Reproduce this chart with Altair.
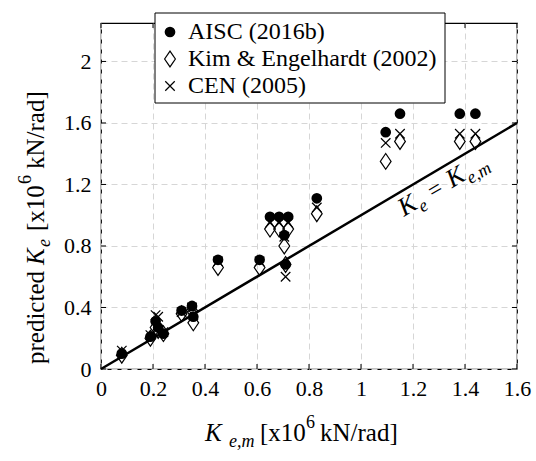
import altair as alt
import pandas as pd

# ---------------- data ----------------
x_meas = [0.08, 0.19, 0.21, 0.22, 0.24, 0.31, 0.35, 0.355, 0.45, 0.61,
          0.65, 0.685, 0.72, 0.705, 0.71, 0.83, 1.095, 1.15, 1.38, 1.44]
aisc = [0.10, 0.21, 0.31, 0.27, 0.23, 0.38, 0.41, 0.34, 0.71, 0.71,
        0.99, 0.99, 0.99, 0.87, 0.68, 1.11, 1.54, 1.66, 1.66, 1.66]
kim = [0.09, 0.20, 0.27, 0.25, 0.23, 0.36, 0.38, 0.30, 0.66, 0.66,
       0.91, 0.91, 0.91, 0.80, 0.68, 1.01, 1.35, 1.48, 1.48, 1.48]
cen = [0.12, 0.22, 0.35, 0.34, 0.24, 0.37, 0.40, 0.35, 0.70, 0.70,
       0.95, 0.95, 0.95, 0.86, 0.60, 1.05, 1.47, 1.53, 1.53, 1.53]

x_ticks = [0, 0.2, 0.4, 0.6, 0.8, 1.0, 1.2, 1.4, 1.6]
y_ticks = [0, 0.4, 0.8, 1.2, 1.6, 2.0]
x_domain = [0, 1.6]
y_domain = [0, 2.25]
line_vals = [0, 1.6]

legend_labels = ["AISC (2016b)", "Kim & Engelhardt (2002)", "CEN (2005)"]

ann_x = [1.165]
ann_y = [0.99]
ann_text = ["K", "e", "=", "K", "e,m"]

xtitle_text = ["K", "e,m", "[x10", "6", "kN/rad]"]
ytitle_text = ["predicted", "K", "e", "[x10", "6", "kN/rad]"]

# ---------------- styling ----------------
W, H = 416, 346
FONT = "Liberation Serif"
DIAMOND = "M0,-1L0.68,0L0,1L-0.68,0Z"
XMARK = "M-1,-1L1,1M-1,1L1,-1"

xs = alt.Scale(domain=x_domain, nice=False, zero=False)
ys = alt.Scale(domain=y_domain, nice=False, zero=False)

xax = alt.Axis(values=x_ticks, format="~g", grid=True, gridDash=[6, 4],
               gridColor="#d6d6d6", gridWidth=1, ticks=False, domain=False,
               labelFont=FONT, labelFontSize=22, labelColor="black",
               labelPadding=9, labelFlush=False, title=None)
yax = alt.Axis(values=y_ticks, format="~g", grid=True, gridDash=[6, 4],
               gridColor="#d6d6d6", gridWidth=1, ticks=False, domain=False,
               labelFont=FONT, labelFontSize=22, labelColor="black",
               labelPadding=10, labelFlush=False, title=None)


def X(field):
    return alt.X(field, scale=xs, axis=xax)


def Y(field):
    return alt.Y(field, scale=ys, axis=yax)


df = pd.DataFrame({"x": x_meas, "aisc": aisc, "kim": kim, "cen": cen})
df_line = pd.DataFrame({"x": line_vals, "y": line_vals})
df_xt = pd.DataFrame({"t": x_ticks})
df_yt = pd.DataFrame({"t": y_ticks})

layers = []

circles = alt.Chart(df).mark_point(shape="circle", filled=True, color="black",
                                   size=115, opacity=1).encode(
    x=X("x:Q"), y=Y("aisc:Q"))
layers.append(circles)

ref_line = alt.Chart(df_line).mark_line(color="black", strokeWidth=2.5).encode(
    x=X("x:Q"), y=Y("y:Q"))
layers.append(ref_line)

diamonds = alt.Chart(df).mark_point(shape=DIAMOND, filled=False, stroke="black",
                                    strokeWidth=1.2, size=250, opacity=1).encode(
    x=X("x:Q"), y=Y("kim:Q"))
layers.append(diamonds)

crosses = alt.Chart(df).mark_point(shape=XMARK, filled=False, stroke="black",
                                   strokeWidth=1.2, size=90, opacity=1).encode(
    x=X("x:Q"), y=Y("cen:Q"))
layers.append(crosses)

# inward tick marks on all four sides
TL = 5
for y0, y1 in [(H, H - TL), (0, TL)]:
    layers.append(alt.Chart(df_xt).mark_rule(color="black", strokeWidth=1).encode(
        x=X("t:Q"), y=alt.value(y0), y2=alt.value(y1)))
for x0, x1 in [(0, TL), (W, W - TL)]:
    layers.append(alt.Chart(df_yt).mark_rule(color="black", strokeWidth=1).encode(
        y=Y("t:Q"), x=alt.value(x0), x2=alt.value(x1)))

# annotation K_e = K_e,m along (below) the line
ann_dx = [0, 18, 34, 56, 74]
ann_dy = [0, 6, 0, 0, 6]
ann_fs = [26, 18, 24, 26, 18]
ann_st = ["italic", "italic", "normal", "italic", "italic"]
df_ann = pd.DataFrame({"x": ann_x, "y": ann_y})
for t, dx, dy, fs, st in zip(ann_text, ann_dx, ann_dy, ann_fs, ann_st):
    layers.append(alt.Chart(df_ann).mark_text(
        text=t, align="left", baseline="alphabetic", angle=329.4, dx=dx, dy=dy,
        font=FONT, fontSize=fs, fontStyle=st, color="black").encode(
        x=X("x:Q"), y=Y("y:Q")))

one = pd.DataFrame({"a": [0]})

# x-axis title pieces
xt_dx = [0, 24, 55, 101, 115]
xt_dy = [0, 6, 0, -13, 0]
xt_fs = [25, 18, 25, 18, 25]
xt_st = ["italic", "italic", "normal", "normal", "normal"]
for t, dx, dy, fs, st in zip(xtitle_text, xt_dx, xt_dy, xt_fs, xt_st):
    layers.append(alt.Chart(one).mark_text(
        text=t, align="left", baseline="alphabetic", dx=dx, dy=dy,
        font=FONT, fontSize=fs, fontStyle=st, color="black").encode(
        x=alt.value(104), y=alt.value(418)))

# y-axis title pieces (rotated)
yt_dx = [0, 99, 117, 133, 180, 195]
yt_dy = [0, 0, 6, 0, -13, 0]
yt_fs = [25, 25, 18, 25, 18, 25]
yt_st = ["normal", "italic", "italic", "normal", "normal", "normal"]
for t, dx, dy, fs, st in zip(ytitle_text, yt_dx, yt_dy, yt_fs, yt_st):
    layers.append(alt.Chart(one).mark_text(
        text=t, align="left", baseline="alphabetic", angle=270, dx=dx, dy=dy,
        font=FONT, fontSize=fs, fontStyle=st, color="black").encode(
        x=alt.value(-57), y=alt.value(341)))

# legend box
layers.append(alt.Chart(one).mark_rect(fill="white", stroke="black", strokeWidth=1).encode(
    x=alt.value(54), x2=alt.value(344), y=alt.value(-10), y2=alt.value(80)))
row_y = [9, 36, 63]
sym_specs = [
    dict(shape="circle", filled=True, color="black", size=115),
    dict(shape=DIAMOND, filled=False, stroke="black", strokeWidth=1.2, size=250),
    dict(shape=XMARK, filled=False, stroke="black", strokeWidth=1.2, size=90),
]
for lab, ry, spec in zip(legend_labels, row_y, sym_specs):
    layers.append(alt.Chart(one).mark_point(opacity=1, **spec).encode(
        x=alt.value(69), y=alt.value(ry)))
    layers.append(alt.Chart(one).mark_text(
        text=lab, align="left", baseline="middle", font=FONT, fontSize=24,
        color="black").encode(x=alt.value(87), y=alt.value(ry)))

chart = alt.layer(*layers).properties(
    width=W, height=H,
    padding={"left": 101, "top": 23, "right": 19, "bottom": 92},
    autosize=alt.AutoSizeParams(type="none"),
    background="white",
).configure_view(stroke="black", strokeWidth=1.2)

chart.save("out.html", embed_options={"renderer": "svg", "actions": False})
